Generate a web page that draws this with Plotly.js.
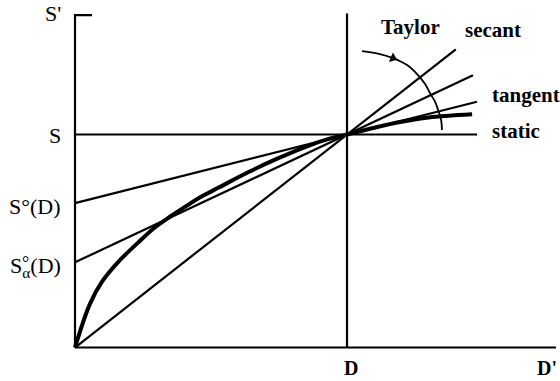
<!DOCTYPE html>
<html>
<head>
<meta charset="utf-8">
<script src="https://cdn.plot.ly/plotly-3.0.1.min.js"></script>
<style>html,body{margin:0;padding:0;background:#fff;}#chart{width:560px;height:381px;}</style>
</head>
<body>
<div id="chart"></div>
<script>
// ---- data (D = 1, S = 1 in chart units) ----
var axisYX = [0.0625, 0, 0];
var axisYY = [1.561, 1.561, 0];
var axisXX = [0, 1.768];
var axisXY = [0, 0];
var dLineX = [1, 1];
var dLineY = [0, 1.568];

var staticX = [0, 1.478];
var staticY = [1, 1];
var secantX = [0, 1.40];
var secantY = [0, 1.40];
var alphaX = [0, 1.463];
var alphaY = [0.40, 1.278];
var tangentX = [0, 1.478];
var tangentY = [0.678, 1.154];

var curveX = [0, 0.055, 0.10, 0.165, 0.23, 0.29, 0.35, 0.41, 0.47, 0.53, 0.64, 0.75, 0.86, 0.93, 1.0, 1.10, 1.20, 1.30, 1.46];
var curveY = [0, 0.205, 0.31, 0.41, 0.49, 0.56, 0.615, 0.665, 0.712, 0.752, 0.825, 0.89, 0.948, 0.978, 1.0, 1.032, 1.06, 1.08, 1.095];

var arcX = [1.055, 1.121, 1.169, 1.221, 1.261, 1.287, 1.305, 1.324, 1.335, 1.346, 1.349];
var arcY = [1.392, 1.378, 1.359, 1.326, 1.279, 1.237, 1.195, 1.153, 1.115, 1.068, 1.021];
var arrowX = [1.169];
var arrowY = [1.359];

var labelText = ["S'", "S", "S°(D)", "S<sub>α</sub>(D)", "Taylor", "secant", "tangent", "static", "D", "D'"];

// ---- drawing ----
var K = '#000';
function seg(x, y, w, shape) {
  return {x: x, y: y, type: 'scatter', mode: 'lines', hoverinfo: 'skip',
          line: {color: K, width: w, shape: shape || 'linear'}};
}
var traces = [
  seg(axisYX, axisYY, 2.2),
  seg(axisXX, axisXY, 2.2),
  seg(dLineX, dLineY, 2.2),
  seg(staticX, staticY, 2.2),
  seg(secantX, secantY, 2.2),
  seg(alphaX, alphaY, 2.2),
  seg(tangentX, tangentY, 2.2),
  seg(curveX, curveY, 4, 'spline'),
  seg(arcX, arcY, 1.8, 'spline'),
  {x: arrowX, y: arrowY, type: 'scatter', mode: 'markers', hoverinfo: 'skip',
   marker: {symbol: 'triangle-right', size: 9, angle: 22, color: K}}
];

var F = 'Liberation Serif, Times New Roman, serif';
function annD(i, x, y, xa, bold, size) {
  return {text: bold ? '<b>' + labelText[i] + '</b>' : labelText[i], x: x, y: y,
          xref: 'x', yref: 'y', xanchor: xa, yanchor: 'middle', showarrow: false,
          font: {family: F, size: size, color: K}};
}
function annP(i, x, y, xa, bold, size) {
  return {text: bold ? '<b>' + labelText[i] + '</b>' : labelText[i], x: x, y: y,
          xref: 'paper', yref: 'paper', xanchor: xa, yanchor: 'middle', showarrow: false,
          font: {family: F, size: size, color: K}};
}
var annotations = [
  annP(0, -0.0143, 0.983, 'right', false, 22),
  annP(1, -0.0143, 0.629, 'right', false, 22),
  annP(2, -0.0143, 0.423, 'right', false, 22),
  annP(3, -0.0143, 0.248, 'right', false, 22),
  annD(4, 1.235, 1.507, 'center', true, 21),
  annD(5, 1.426, 1.49, 'left', true, 21),
  annD(6, 1.526, 1.185, 'left', true, 21),
  annD(7, 1.526, 1.016, 'left', true, 21),
  annP(8, 0.5758, -0.0465, 'center', true, 20),
  annP(9, 0.9775, -0.0465, 'center', true, 20),
  {text: '°', x: -0.0922, y: 0.2587, xref: 'paper', yref: 'paper', xanchor: 'center', yanchor: 'middle',
   showarrow: false, font: {family: F, size: 18, color: K}}
];

var layout = {
  width: 560, height: 381,
  margin: {l: 70, r: 2, t: 8, b: 29},
  paper_bgcolor: '#fff', plot_bgcolor: '#fff',
  showlegend: false,
  xaxis: {range: [-0.0184, 1.7757], visible: false, fixedrange: true},
  yaxis: {range: [-0.0211, 1.594], visible: false, fixedrange: true},
  annotations: annotations
};
Plotly.newPlot('chart', traces, layout, {staticPlot: true, displayModeBar: false});
</script>
</body>
</html>
